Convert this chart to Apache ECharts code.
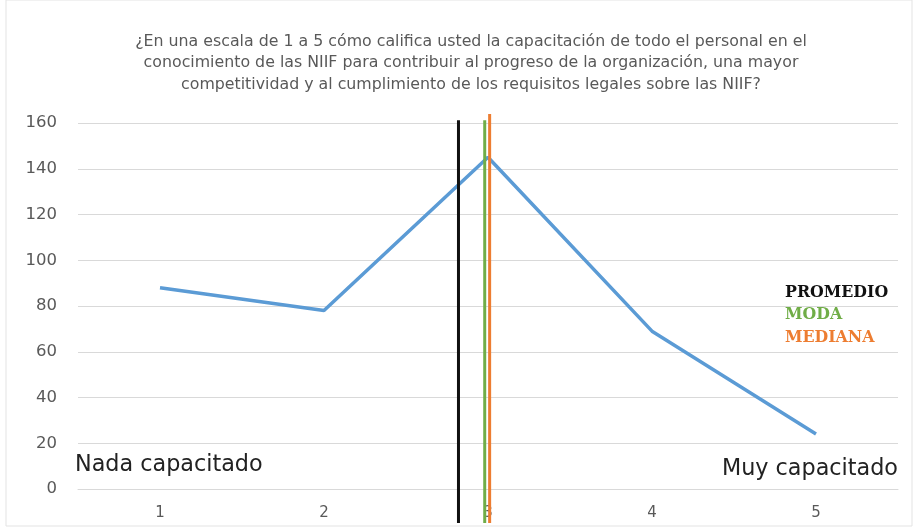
<!DOCTYPE html>
<html><head><meta charset="utf-8">
<script src="https://cdn.jsdelivr.net/npm/echarts@6/dist/echarts.min.js"></script>
<style>html,body{margin:0;padding:0;background:#fff}#c{width:913px;height:527px}</style>
</head><body><div id="c"></div>
<script>
const categories = ['1','2','3','4','5'];
const values = [88, 78, 145, 69, 24];
const yTicks = {min:0, max:160, interval:20};
const refNames = ['PROMEDIO','MODA','MEDIANA'];
const refPositions = [2.82, 2.98, 3.01];
const refTops = [0.985, 0.985, 1.0];
const refColors = ['#111111','#70ad47','#ed7d31'];
const titleLines = '¿En una escala de 1 a 5 cómo califica usted la capacitación de todo el personal en el\nconocimiento de las NIIF para contribuir al progreso de la organización, una mayor\ncompetitividad y al cumplimiento de los requisitos legales sobre las NIIF?';

const chart = echarts.init(document.getElementById('c'));
const refSeries = refNames.map((n,i)=>({
  name:n, type:'line', xAxisIndex:1, yAxisIndex:1, symbol:'none', silent:true,
  lineStyle:{color:refColors[i], width:3},
  data:[[refPositions[i],0],[refPositions[i],refTops[i]]], z:5
}));
const sans = 'DejaVu Sans';
chart.setOption({
  animation:false,
  title:[
    {text:titleLines, left:466, textAlign:'center', top:26,
     textStyle:{fontFamily:sans, fontSize:15.8, fontWeight:'normal', color:'#595959', lineHeight:21.5}},
    {text:'Nada capacitado', left:70, top:449, textStyle:{fontFamily:sans, fontSize:22.3, fontWeight:'normal', color:'#222'}},
    {text:'Muy capacitado', right:10, top:453, textStyle:{fontFamily:sans, fontSize:22.3, fontWeight:'normal', color:'#222'}},
    {text:refNames[0], left:780, top:280, textStyle:{fontFamily:'DejaVu Serif', fontSize:15.8, fontWeight:'bold', color:'#111'}},
    {text:refNames[1], left:780, top:302, textStyle:{fontFamily:'DejaVu Serif', fontSize:15.8, fontWeight:'bold', color:'#70ad47'}},
    {text:refNames[2], left:780, top:325, textStyle:{fontFamily:'DejaVu Serif', fontSize:15.8, fontWeight:'bold', color:'#ed7d31'}}
  ],
  graphic:[{type:'rect', shape:{x:6,y:0,width:906,height:526}, style:{fill:'none', stroke:'#e3e3e3', lineWidth:1}, silent:true}],
  grid:[
    {left:78, right:15, top:123, bottom:38},
    {left:78, right:15, top:114, bottom:4}
  ],
  xAxis:[
    {type:'category', data:categories, gridIndex:0, boundaryGap:true,
     axisLine:{lineStyle:{color:'#d9d9d9'}}, axisTick:{show:false},
     axisLabel:{color:'#595959', fontFamily:sans, fontSize:15, margin:17}},
    {type:'value', gridIndex:1, min:0.5, max:5.5, show:false}
  ],
  yAxis:[
    {type:'value', gridIndex:0, min:yTicks.min, max:yTicks.max, interval:yTicks.interval,
     axisLine:{show:false}, axisTick:{show:false},
     splitLine:{lineStyle:{color:'#d9d9d9', width:1}},
     axisLabel:{color:'#595959', fontFamily:sans, fontSize:16.5, margin:21}},
    {type:'value', gridIndex:1, min:0, max:1, show:false}
  ],
  series:[
    {type:'line', data:values, xAxisIndex:0, yAxisIndex:0, symbol:'none',
     lineStyle:{color:'#5b9bd5', width:3.5}, z:3},
    ...refSeries
  ]
});
</script></body></html>
